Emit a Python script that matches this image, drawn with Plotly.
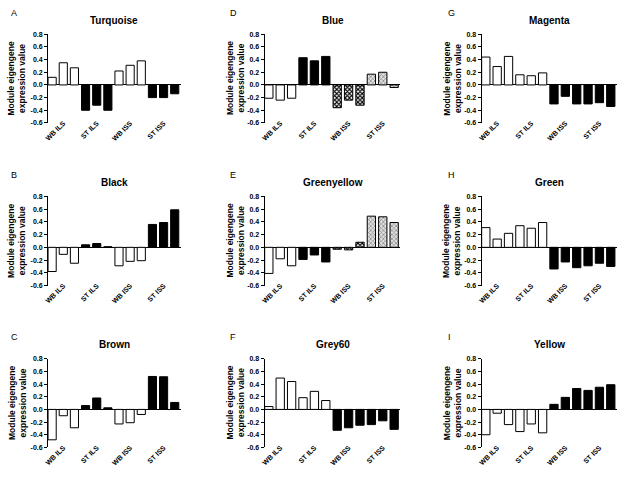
import plotly.graph_objects as go

categories = ["WB ILS", "ST ILS", "WB ISS", "ST ISS"]
tick_vals = [-0.6, -0.4, -0.2, 0.0, 0.2, 0.4, 0.6, 0.8]
tick_text = ["-0.6", "-0.4", "-0.2", "0.0", "0.2", "0.4", "0.6", "0.8"]

letters = ["A", "B", "C", "D", "E", "F", "G", "H", "I"]
titles = ["Turquoise", "Black", "Brown", "Blue", "Greenyellow", "Grey60", "Magenta", "Green", "Yellow"]

turquoise = [0.12, 0.35, 0.27, -0.40, -0.32, -0.40, 0.22, 0.31, 0.38, -0.20, -0.20, -0.14]
black = [-0.38, -0.11, -0.25, 0.04, 0.06, 0.01, -0.29, -0.22, -0.21, 0.36, 0.39, 0.59]
brown = [-0.48, -0.10, -0.29, 0.06, 0.18, 0.025, -0.23, -0.21, -0.08, 0.52, 0.515, 0.11]
blue = [-0.21, -0.24, -0.21, 0.43, 0.38, 0.45, -0.36, -0.24, -0.32, 0.17, 0.20, -0.04]
greenyellow = [-0.41, -0.18, -0.29, -0.19, -0.12, -0.23, -0.03, -0.04, 0.08, 0.49, 0.48, 0.39]
grey60 = [0.045, 0.495, 0.44, 0.185, 0.285, 0.14, -0.33, -0.29, -0.25, -0.24, -0.18, -0.315]
magenta = [0.44, 0.29, 0.45, 0.16, 0.145, 0.19, -0.30, -0.18, -0.30, -0.30, -0.28, -0.34]
green = [0.31, 0.13, 0.22, 0.34, 0.30, 0.39, -0.34, -0.23, -0.32, -0.29, -0.25, -0.30]
yellow = [-0.40, -0.06, -0.24, -0.35, -0.23, -0.37, 0.08, 0.19, 0.33, 0.30, 0.35, 0.39]

series = [turquoise, black, brown, blue, greenyellow, grey60, magenta, green, yellow]
# fill style per group of three bars: w=white, b=black, d=dark checker, l=light checker
group_styles = [
    "wbwb", "wbwb", "wbwb",
    "wbdl", "wbdl", "wwbb",
    "wwbb", "wwbb", "wwbb",
]

col_x = [(44.3, 178.0), (262.3, 399.0), (480.7, 617.0)]
row_y = [(30.7, 120.7), (195.3, 285.7), (360.0, 450.0)]
W, H = 622, 478

fig = go.Figure()
FONT = "Liberation Sans, Arial, sans-serif"


def marker_for(style):
    line = dict(color="black", width=1)
    if style == "w":
        return dict(color="white", line=line)
    if style == "b":
        return dict(color="black", line=line)
    if style == "d":
        return dict(color="white", line=line,
                    pattern=dict(shape="x", fgcolor="black", bgcolor="white",
                                 size=3, solidity=0.6, fillmode="replace"))
    return dict(color="#e0e0e0", line=line,
                pattern=dict(shape="x", fgcolor="#8c8c8c", bgcolor="#e0e0e0",
                             size=3, solidity=0.45, fillmode="replace"))


for i in range(9):
    c, r = i // 3, i % 3
    k = i + 1
    xs = "" if k == 1 else str(k)
    vals = series[i]
    for g in range(4):
        idx = [3 * g, 3 * g + 1, 3 * g + 2]
        fig.add_trace(go.Bar(
            x=idx, y=[vals[j] for j in idx],
            xaxis="x" + xs, yaxis="y" + xs,
            width=0.73,
            marker=marker_for(group_styles[i][g]),
            showlegend=False, hoverinfo="skip",
        ))
    x0, x1 = col_x[c]
    y0, y1 = row_y[r]
    fig.layout["xaxis" + xs] = dict(
        domain=[x0 / W, x1 / W], anchor="y" + xs,
        range=[-0.37, 11.55], showline=False, showgrid=False, zeroline=False,
        ticks="", tickvals=[1, 4, 7, 10], ticktext=categories, tickangle=-45,
        ticklabelstandoff=-6,
        tickfont=dict(family=FONT, size=7, color="black", weight="bold"),
    )
    fig.layout["yaxis" + xs] = dict(
        domain=[1 - y1 / H, 1 - y0 / H], anchor="x" + xs,
        range=[-0.6, 0.8], showline=True, linecolor="black", linewidth=1,
        showgrid=False, zeroline=True, zerolinecolor="black", zerolinewidth=1,
        ticks="outside", ticklen=3, tickcolor="black", tickwidth=1,
        tickvals=tick_vals, ticktext=tick_text,
        tickfont=dict(family=FONT, size=7, color="black", weight="bold"),
    )
    cx = (x0 + x1) / 2
    fig.add_annotation(x=cx / W, y=1 - (y0 - 14) / H, xref="paper", yref="paper",
                       text="<b>" + titles[i] + "</b>", showarrow=False,
                       font=dict(family=FONT, size=10, color="black"),
                       xanchor="center", yanchor="middle")
    lx = [5, 225, 445][c]
    ly = [9.5, 174, 338][r]
    fig.add_annotation(x=lx / W, y=1 - ly / H, xref="paper", yref="paper",
                       text=letters[i], showarrow=False,
                       font=dict(family=FONT, size=9, color="black"),
                       xanchor="left", yanchor="middle")
    tx = [13, 233, 451][c]
    fig.add_annotation(x=tx / W, y=1 - ((y0 + y1) / 2) / H, xref="paper", yref="paper",
                       text="<b>Module eigengene<br>expression value</b>", showarrow=False,
                       textangle=-90,
                       font=dict(family=FONT, size=8.5, color="black"),
                       xanchor="center", yanchor="middle")

fig.update_layout(
    width=W, height=H, margin=dict(l=0, r=0, t=0, b=0),
    paper_bgcolor="white", plot_bgcolor="white", bargap=0.27, barmode="overlay",
)
fig.write_html("out.html", config={"displayModeBar": False},
               post_script="document.body.style.margin='0';")
